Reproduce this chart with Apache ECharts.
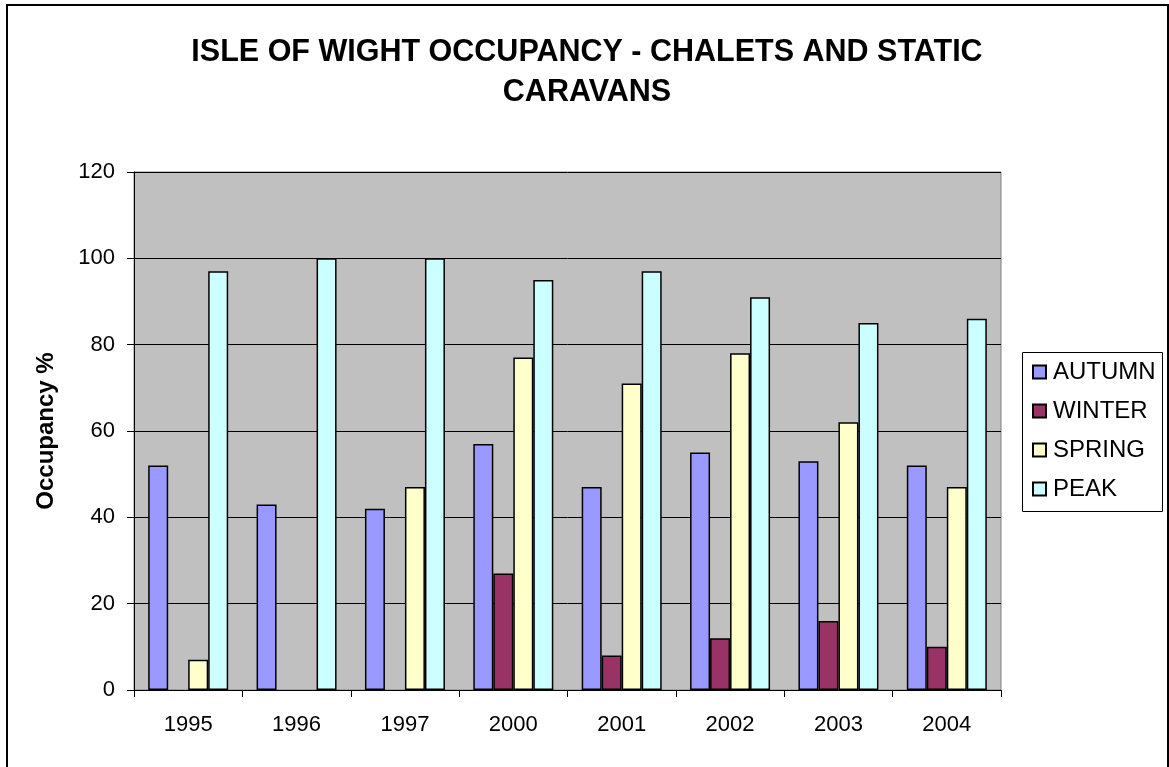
<!DOCTYPE html>
<html>
<head>
<meta charset="utf-8">
<script src="https://cdn.jsdelivr.net/npm/echarts@6/dist/echarts.min.js"></script>
<style>
  html, body { margin: 0; padding: 0; background: #fff; }
</style>
</head>
<body>
<div id="main" style="width: 1169px;height:767px;"></div>
<script type="text/javascript">
    // data
    var years = ['1995', '1996', '1997', '2000', '2001', '2002', '2003', '2004'];
    var autumn = [52, 43, 42, 57, 47, 55, 53, 52];
    var winter = ['-', '-', '-', 27, 8, 12, 16, 10];
    var spring = [7, '-', 47, 77, 71, 78, 62, 47];
    var peak = [97, 100, 100, 95, 97, 91, 85, 86];
    var seriesNames = ['AUTUMN', 'WINTER', 'SPRING', 'PEAK'];
    var seriesColors = ['#9999FF', '#993366', '#FFFFCC', '#CCFFFF'];
    var seriesData = [autumn, winter, spring, peak];

    var myChart = echarts.init(document.getElementById('main'));

    var font = 'Liberation Sans, Arial, sans-serif';

    var series = seriesNames.map(function (name, i) {
        return {
            name: name,
            type: 'bar',
            data: seriesData[i],
            barWidth: 20,
            barGap: '0%',
            itemStyle: {
                color: seriesColors[i],
                borderColor: '#000',
                borderWidth: 1.5
            }
        };
    });

    var option = {
        backgroundColor: '#fff',
        animation: false,
        legend: {
            orient: 'vertical',
            left: 1027,
            top: 355,
            itemWidth: 13,
            itemHeight: 13,
            itemGap: 15,
            icon: 'rect',
            textStyle: { fontFamily: font, fontSize: 24, color: '#000', padding: [0, 0, 0, 2] },
            data: seriesNames
        },
        grid: {
            left: 134,
            right: 168,
            top: 172,
            bottom: 77,
            show: true,
            backgroundColor: '#C0C0C0',
            borderColor: '#808080',
            borderWidth: 1
        },
        xAxis: {
            type: 'category',
            data: years,
            axisLine: { lineStyle: { color: '#000', width: 1 } },
            axisTick: { show: true, length: 7, inside: false, lineStyle: { color: '#000' } },
            axisLabel: { fontFamily: font, fontSize: 22, color: '#000', margin: 24 }
        },
        yAxis: {
            type: 'value',
            min: 0,
            max: 120,
            interval: 20,
            name: 'Occupancy %',
            nameLocation: 'middle',
            nameRotate: 90,
            nameGap: 76,
            nameTextStyle: { fontFamily: font, fontSize: 24, fontWeight: 'bold', color: '#000' },
            axisLine: { show: true, lineStyle: { color: '#000', width: 1 } },
            axisTick: { show: true, length: 7, lineStyle: { color: '#000' } },
            axisLabel: { fontFamily: font, fontSize: 22, color: '#000', margin: 19 },
            splitLine: { show: true, lineStyle: { color: '#000', width: 1 } }
        },
        graphic: [
            {
                type: 'text',
                x: 587,
                y: 33,
                style: {
                    text: 'ISLE OF WIGHT OCCUPANCY - CHALETS AND STATIC\nCARAVANS',
                    textAlign: 'center',
                    textVerticalAlign: 'top',
                    font: 'bold 30.5px Liberation Sans, Arial, sans-serif',
                    lineHeight: 40,
                    fill: '#000'
                },
                silent: true
            },
            {
                type: 'rect',
                shape: { x: 7, y: 5, width: 1161, height: 780 },
                style: { fill: null, stroke: '#000', lineWidth: 2 },
                silent: true,
                z: 100
            },
            {
                type: 'rect',
                shape: { x: 1022.5, y: 352.5, width: 140, height: 159 },
                style: { fill: null, stroke: '#000', lineWidth: 1 },
                silent: true
            }
        ],
        series: series
    };

    myChart.setOption(option);
</script>
</body>
</html>
